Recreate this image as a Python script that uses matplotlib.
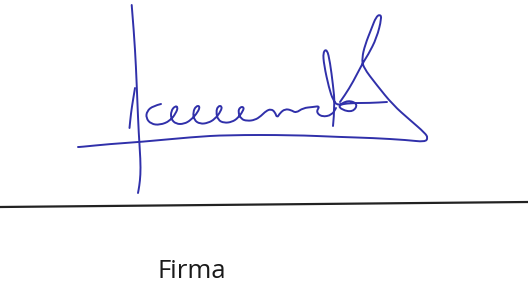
import numpy as np
import matplotlib.pyplot as plt
from matplotlib.path import Path
from matplotlib.patches import PathPatch

# pen strokes of the signature, in picture pixels (x right, y down)
stem_x = [131.7, 134, 136, 137.3, 138.7, 140.5, 140.5, 139.3, 138]
stem_y = [5, 33, 67, 100, 133, 160, 175, 186, 193]

hook_x = [135, 133, 131, 129.5]
hook_y = [88, 100, 113, 128]

loops_x = [161, 153, 147, 146, 151, 160, 170,
           176, 178, 175, 171, 171, 176, 184, 191,
           198, 200, 196, 193, 194, 200, 208, 215,
           221, 222, 218, 216, 218, 224, 232, 238,
           243, 244, 240, 238, 241, 247, 255, 261,
           266, 271, 275, 277, 280, 285, 291, 296, 303, 313, 320,
           316, 322, 332, 336]
loops_y = [104, 106, 111, 118, 124, 125, 121,
           113, 107, 106, 111, 119, 124, 124, 120,
           112, 106, 106, 112, 120, 124, 123, 119,
           111, 106, 106, 112, 120, 123, 122, 118,
           111, 107, 107, 112, 119, 121, 120, 116,
           111, 109, 112, 118, 113, 109, 110, 113, 108, 107, 106,
           112, 117, 115, 108]

knot_x = [333, 335, 333, 330, 327, 323, 324, 329, 333, 338, 348, 358, 353, 342, 338, 350, 370, 387]
knot_y = [126, 105, 85, 62, 49, 52, 65, 88, 100, 106, 100, 104, 112, 110, 105, 103, 103, 102]

flourish_x = [340, 345, 353, 362.7, 368, 376.7, 381.7, 380, 376, 371.7, 365, 362, 363,
              376.7, 393, 410, 425, 428, 425, 406.7, 373, 340,
              293, 227, 193, 140, 110, 80, 78]
flourish_y = [102, 95, 82, 63, 55, 38, 18, 14.3, 17, 28, 45, 58, 67,
              85, 105, 120, 133, 138, 142, 140, 138, 137,
              135, 135, 137, 142, 144, 147, 147]

strokes = [(stem_x, stem_y), (hook_x, hook_y), (loops_x, loops_y),
           (knot_x, knot_y), (flourish_x, flourish_y)]

rule_x = [0, 528]
rule_y = [207, 202]

label = "Firma"
ink = "#3030aa"


def smooth_path(xs, ys):
    # quadratic bezier through midpoints, control points = pen samples
    pts = np.column_stack([xs, ys])
    verts = [pts[0]]
    codes = [Path.MOVETO]
    for i in range(1, len(pts) - 1):
        mid = (pts[i] + pts[i + 1]) / 2
        verts += [pts[i], mid]
        codes += [Path.CURVE3, Path.CURVE3]
    verts.append(pts[-1])
    codes.append(Path.LINETO)
    return Path(verts, codes)


def main():
    fig = plt.figure(figsize=(5.28, 2.83), dpi=100)
    ax = fig.add_axes([0, 0, 1, 1])
    ax.set_xlim(0, 528)
    ax.set_ylim(283, 0)
    ax.axis('off')

    for xs, ys in strokes:
        ax.add_patch(PathPatch(smooth_path(xs, ys), facecolor='none',
                               edgecolor=ink, lw=1.4, capstyle='round',
                               joinstyle='round'))

    ax.plot(rule_x, rule_y, color='#222222', lw=1.6, solid_capstyle='butt')

    ax.text(157, 278, label, fontsize=18.5, family='Open Sans',
            color='#1a1a1a', ha='left', va='baseline')

    fig.savefig('out.png', dpi=100, facecolor='white')


if __name__ == "__main__":
    main()
